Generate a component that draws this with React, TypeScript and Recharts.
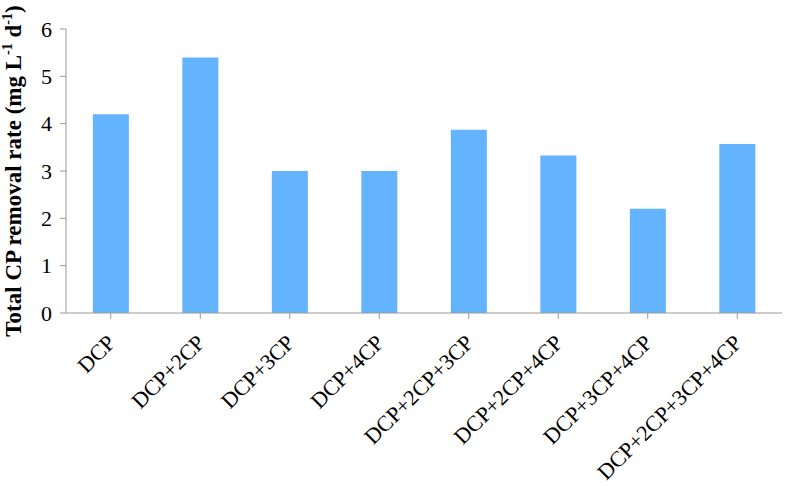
import React from 'react';
import { BarChart, Bar, XAxis, YAxis } from 'recharts';

const categories = ['DCP', 'DCP+2CP', 'DCP+3CP', 'DCP+4CP', 'DCP+2CP+3CP', 'DCP+2CP+4CP', 'DCP+3CP+4CP', 'DCP+2CP+3CP+4CP'];
const rates = [4.2, 5.4, 3.0, 3.0, 3.87, 3.33, 2.2, 3.57];
const yTicks = [0, 1, 2, 3, 4, 5, 6];

const data = categories.map((c, i) => ({ name: c, rate: rates[i] }));

const FONT = '"Liberation Serif", "Times New Roman", serif';
const AXIS = '#9a9a9a';

const XTick = (props: any) => {
  const { x, y, payload } = props;
  return (
    <g transform={`translate(${x + 6},${y + 23})`}>
      <text x={0} y={0} textAnchor="end" transform="rotate(-45)" fontFamily={FONT} fontSize={22} fill="#000">
        {payload.value}
      </text>
    </g>
  );
};

const YLabel = () => (
  <text transform="translate(21,171) rotate(-90)" textAnchor="middle" fontFamily={FONT} fontSize={23} fontWeight="bold" fill="#000">
    <tspan>Total CP removal rate (mg L</tspan>
    <tspan dy={-9} fontSize={14}>-1</tspan>
    <tspan dy={9}> d</tspan>
    <tspan dy={-9} fontSize={14}>-1</tspan>
    <tspan dy={9}>)</tspan>
  </text>
);

export default function App() {
  return (
    <div style={{ position: 'absolute', left: 0, top: 0 }}>
      <BarChart width={786} height={486} data={data} margin={{ top: 29, right: 4, bottom: 0, left: 0 }} barCategoryGap="30%">
        <XAxis
          dataKey="name"
          interval={0}
          height={173}
          tick={<XTick />}
          axisLine={{ stroke: AXIS }}
          tickLine={{ stroke: AXIS }}
          tickSize={6}
          scale="band"
        />
        <YAxis
          domain={[0, 6]}
          ticks={yTicks}
          width={66}
          axisLine={{ stroke: AXIS }}
          tickLine={{ stroke: AXIS }}
          tickSize={6}
          tickMargin={8}
          tick={{ fontFamily: FONT, fontSize: 22, fill: '#000' }}
          label={<YLabel />}
        />
        <Bar dataKey="rate" fill="#63B3FE" isAnimationActive={false} />
      </BarChart>
    </div>
  );
}
